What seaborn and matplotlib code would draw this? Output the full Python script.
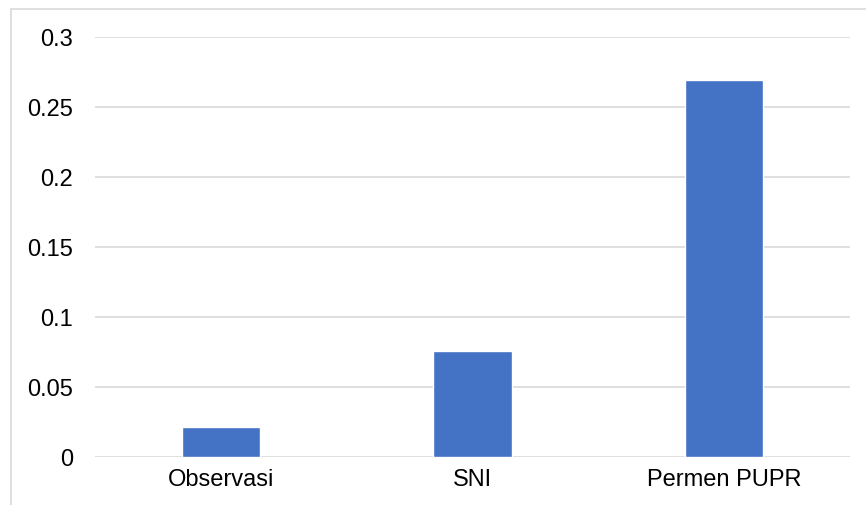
import matplotlib
matplotlib.use("Agg")
import matplotlib.pyplot as plt
import seaborn as sns
import pandas as pd
from matplotlib.lines import Line2D

# data
categories = ["Observasi", "SNI", "Permen PUPR"]
values = [0.0214, 0.0757, 0.2695]
yticks = [0, 0.05, 0.1, 0.15, 0.2, 0.25, 0.3]
ytick_labels = ["0", "0.05", "0.1", "0.15", "0.2", "0.25", "0.3"]

df = pd.DataFrame({"kategori": categories, "nilai": values})

sns.set_theme(style="white")
plt.rcParams["font.family"] = ["Liberation Sans", "DejaVu Sans"]

fig = plt.figure(figsize=(8.66, 5.06), dpi=100)
ax = fig.add_axes([95 / 866, 1 - 458 / 506, 755 / 866, 420 / 506])

sns.barplot(data=df, x="kategori", y="nilai", color="#4472C4",
            width=0.31, saturation=1, ax=ax, zorder=3)

ax.set_ylim(0, 0.3)
ax.set_xlim(-0.5, 2.5)
ax.set_yticks(yticks)
ax.set_yticklabels(ytick_labels)
ax.yaxis.grid(True, color="#D9D9D9", linewidth=1.2, zorder=0)
ax.set_axisbelow(True)
for s in ax.spines.values():
    s.set_visible(False)
ax.set_xlabel("")
ax.set_ylabel("")
ax.tick_params(axis="both", length=0, labelsize=17, labelcolor="#000000")
ax.tick_params(axis="y", pad=16)
ax.tick_params(axis="x", pad=8)

# chart area border (Excel style)
fig.add_artist(Line2D([10.5 / 866, 10.5 / 866], [0, 1 - 9.5 / 506],
                      color="#D9D9D9", linewidth=1.2))
fig.add_artist(Line2D([10.5 / 866, 1], [1 - 9.5 / 506, 1 - 9.5 / 506],
                      color="#D9D9D9", linewidth=1.2))

plt.savefig("out.png", dpi=100)
plt.close()
